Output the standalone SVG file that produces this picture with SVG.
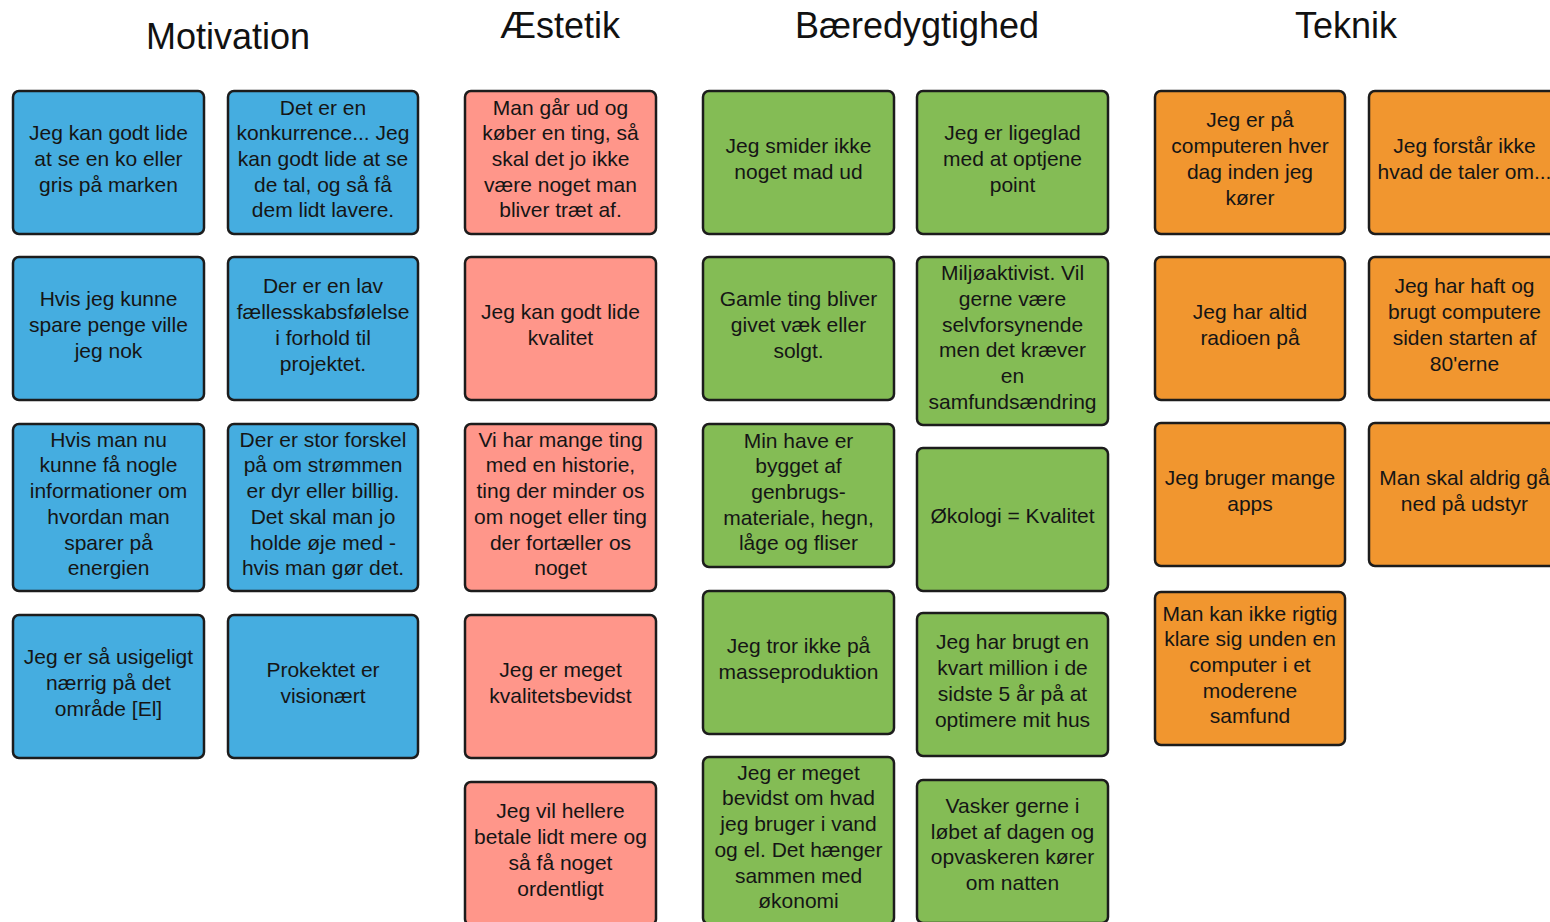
<svg xmlns="http://www.w3.org/2000/svg" width="1550" height="922" viewBox="0 0 1550 922">
<style>
.card rect{stroke:#1c1c1c;stroke-width:2.5}
.b rect{fill:#45ADE0}
.r rect{fill:#FF968A}
.g rect{fill:#84BC55}
.o rect{fill:#F1962F}
.card text{font-family:"Liberation Sans",Arial,sans-serif;font-size:21px;fill:#151515;text-anchor:middle}
.title{font-family:"Liberation Sans",Arial,sans-serif;font-size:36px;fill:#111;text-anchor:middle}
</style>
<rect width="1550" height="922" fill="#fff"/>
<g id="titles">
<text class="title" x="228" y="49">Motivation</text>
<text class="title" x="560" y="38">Æstetik</text>
<text class="title" x="917" y="38">Bæredygtighed</text>
<text class="title" x="1346" y="38">Teknik</text>
</g>
<g id="connectors"></g>

<g id="m1" class="card b"><rect x="13" y="91" width="191" height="143" rx="6"/><text x="108.5" y="140.3">Jeg kan godt lide<tspan x="108.5" dy="25.7">at se en ko eller</tspan><tspan x="108.5" dy="25.7">gris på marken</tspan></text></g>
<g id="m2" class="card b"><rect x="13" y="257" width="191" height="143" rx="6"/><text x="108.5" y="306.3">Hvis jeg kunne<tspan x="108.5" dy="25.7">spare penge ville</tspan><tspan x="108.5" dy="25.7">jeg nok</tspan></text></g>
<g id="m3" class="card b"><rect x="13" y="424" width="191" height="167" rx="6"/><text x="108.5" y="446.75">Hvis man nu<tspan x="108.5" dy="25.7">kunne få nogle</tspan><tspan x="108.5" dy="25.7">informationer om</tspan><tspan x="108.5" dy="25.7">hvordan man</tspan><tspan x="108.5" dy="25.7">sparer på</tspan><tspan x="108.5" dy="25.7">energien</tspan></text></g>
<g id="m4" class="card b"><rect x="13" y="615" width="191" height="143" rx="6"/><text x="108.5" y="664.3">Jeg er så usigeligt<tspan x="108.5" dy="25.7">nærrig på det</tspan><tspan x="108.5" dy="25.7">område [El]</tspan></text></g>

<g id="m5" class="card b"><rect x="228" y="91" width="190" height="143" rx="6"/><text x="323" y="114.6">Det er en<tspan x="323" dy="25.7">konkurrence... Jeg</tspan><tspan x="323" dy="25.7">kan godt lide at se</tspan><tspan x="323" dy="25.7">de tal, og så få</tspan><tspan x="323" dy="25.7">dem lidt lavere.</tspan></text></g>
<g id="m6" class="card b"><rect x="228" y="257" width="190" height="143" rx="6"/><text x="323" y="293.45">Der er en lav<tspan x="323" dy="25.7">fællesskabsfølelse</tspan><tspan x="323" dy="25.7">i forhold til</tspan><tspan x="323" dy="25.7">projektet.</tspan></text></g>
<g id="m7" class="card b"><rect x="228" y="424" width="190" height="167" rx="6"/><text x="323" y="446.75">Der er stor forskel<tspan x="323" dy="25.7">på om strømmen</tspan><tspan x="323" dy="25.7">er dyr eller billig.</tspan><tspan x="323" dy="25.7">Det skal man jo</tspan><tspan x="323" dy="25.7">holde øje med -</tspan><tspan x="323" dy="25.7">hvis man gør det.</tspan></text></g>
<g id="m8" class="card b"><rect x="228" y="615" width="190" height="143" rx="6"/><text x="323" y="677.15">Prokektet er<tspan x="323" dy="25.7">visionært</tspan></text></g>

<g id="a1" class="card r"><rect x="465" y="91" width="191" height="143" rx="6"/><text x="560.5" y="114.6">Man går ud og<tspan x="560.5" dy="25.7">køber en ting, så</tspan><tspan x="560.5" dy="25.7">skal det jo ikke</tspan><tspan x="560.5" dy="25.7">være noget man</tspan><tspan x="560.5" dy="25.7">bliver træt af.</tspan></text></g>
<g id="a2" class="card r"><rect x="465" y="257" width="191" height="143" rx="6"/><text x="560.5" y="319.15">Jeg kan godt lide<tspan x="560.5" dy="25.7">kvalitet</tspan></text></g>
<g id="a3" class="card r"><rect x="465" y="424" width="191" height="167" rx="6"/><text x="560.5" y="446.75">Vi har mange ting<tspan x="560.5" dy="25.7">med en historie,</tspan><tspan x="560.5" dy="25.7">ting der minder os</tspan><tspan x="560.5" dy="25.7">om noget eller ting</tspan><tspan x="560.5" dy="25.7">der fortæller os</tspan><tspan x="560.5" dy="25.7">noget</tspan></text></g>
<g id="a4" class="card r"><rect x="465" y="615" width="191" height="143" rx="6"/><text x="560.5" y="677.15">Jeg er meget<tspan x="560.5" dy="25.7">kvalitetsbevidst</tspan></text></g>
<g id="a5" class="card r"><rect x="465" y="782" width="191" height="143" rx="6"/><text x="560.5" y="818.45">Jeg vil hellere<tspan x="560.5" dy="25.7">betale lidt mere og</tspan><tspan x="560.5" dy="25.7">så få noget</tspan><tspan x="560.5" dy="25.7">ordentligt</tspan></text></g>

<g id="g1" class="card g"><rect x="703" y="91" width="191" height="143" rx="6"/><text x="798.5" y="153.15">Jeg smider ikke<tspan x="798.5" dy="25.7">noget mad ud</tspan></text></g>
<g id="g2" class="card g"><rect x="703" y="257" width="191" height="143" rx="6"/><text x="798.5" y="306.3">Gamle ting bliver<tspan x="798.5" dy="25.7">givet væk eller</tspan><tspan x="798.5" dy="25.7">solgt.</tspan></text></g>
<g id="g3" class="card g"><rect x="703" y="424" width="191" height="143" rx="6"/><text x="798.5" y="447.6">Min have er<tspan x="798.5" dy="25.7">bygget af</tspan><tspan x="798.5" dy="25.7">genbrugs-</tspan><tspan x="798.5" dy="25.7">materiale, hegn,</tspan><tspan x="798.5" dy="25.7">låge og fliser</tspan></text></g>
<g id="g4" class="card g"><rect x="703" y="591" width="191" height="143" rx="6"/><text x="798.5" y="653.15">Jeg tror ikke på<tspan x="798.5" dy="25.7">masseproduktion</tspan></text></g>
<g id="g5" class="card g"><rect x="703" y="757" width="191" height="167" rx="6"/><text x="798.5" y="779.75">Jeg er meget<tspan x="798.5" dy="25.7">bevidst om hvad</tspan><tspan x="798.5" dy="25.7">jeg bruger i vand</tspan><tspan x="798.5" dy="25.7">og el. Det hænger</tspan><tspan x="798.5" dy="25.7">sammen med</tspan><tspan x="798.5" dy="25.7">økonomi</tspan></text></g>

<g id="g6" class="card g"><rect x="917" y="91" width="191" height="143" rx="6"/><text x="1012.5" y="140.3">Jeg er ligeglad<tspan x="1012.5" dy="25.7">med at optjene</tspan><tspan x="1012.5" dy="25.7">point</tspan></text></g>
<g id="g7" class="card g"><rect x="917" y="257" width="191" height="168" rx="6"/><text x="1012.5" y="280.25">Miljøaktivist. Vil<tspan x="1012.5" dy="25.7">gerne være</tspan><tspan x="1012.5" dy="25.7">selvforsynende</tspan><tspan x="1012.5" dy="25.7">men det kræver</tspan><tspan x="1012.5" dy="25.7">en</tspan><tspan x="1012.5" dy="25.7">samfundsændring</tspan></text></g>
<g id="g8" class="card g"><rect x="917" y="448" width="191" height="143" rx="6"/><text x="1012.5" y="523">Økologi = Kvalitet</text></g>
<g id="g9" class="card g"><rect x="917" y="613" width="191" height="143" rx="6"/><text x="1012.5" y="649.45">Jeg har brugt en<tspan x="1012.5" dy="25.7">kvart million i de</tspan><tspan x="1012.5" dy="25.7">sidste 5 år på at</tspan><tspan x="1012.5" dy="25.7">optimere mit hus</tspan></text></g>
<g id="g10" class="card g"><rect x="917" y="780" width="191" height="143" rx="6"/><text x="1012.5" y="813">Vasker gerne i<tspan x="1012.5" dy="25.7">løbet af dagen og</tspan><tspan x="1012.5" dy="25.7">opvaskeren kører</tspan><tspan x="1012.5" dy="25.7">om natten</tspan></text></g>

<g id="t1" class="card o"><rect x="1155" y="91" width="190" height="143" rx="6"/><text x="1250" y="127.45">Jeg er på<tspan x="1250" dy="25.7">computeren hver</tspan><tspan x="1250" dy="25.7">dag inden jeg</tspan><tspan x="1250" dy="25.7">kører</tspan></text></g>
<g id="t2" class="card o"><rect x="1155" y="257" width="190" height="143" rx="6"/><text x="1250" y="319.15">Jeg har altid<tspan x="1250" dy="25.7">radioen på</tspan></text></g>
<g id="t3" class="card o"><rect x="1155" y="423" width="190" height="143" rx="6"/><text x="1250" y="485.15">Jeg bruger mange<tspan x="1250" dy="25.7">apps</tspan></text></g>
<g id="t4" class="card o"><rect x="1155" y="592" width="190" height="153" rx="6"/><text x="1250" y="620.6">Man kan ikke rigtig<tspan x="1250" dy="25.7">klare sig unden en</tspan><tspan x="1250" dy="25.7">computer i et</tspan><tspan x="1250" dy="25.7">moderene</tspan><tspan x="1250" dy="25.7">samfund</tspan></text></g>

<g id="t5" class="card o"><rect x="1369" y="91" width="191" height="143" rx="6"/><text x="1464.5" y="153.15">Jeg forstår ikke<tspan x="1464.5" dy="25.7">hvad de taler om...</tspan></text></g>
<g id="t6" class="card o"><rect x="1369" y="257" width="191" height="143" rx="6"/><text x="1464.5" y="293.45">Jeg har haft og<tspan x="1464.5" dy="25.7">brugt computere</tspan><tspan x="1464.5" dy="25.7">siden starten af</tspan><tspan x="1464.5" dy="25.7">80'erne</tspan></text></g>
<g id="t7" class="card o"><rect x="1369" y="423" width="191" height="143" rx="6"/><text x="1464.5" y="485.15">Man skal aldrig gå<tspan x="1464.5" dy="25.7">ned på udstyr</tspan></text></g>
</svg>
